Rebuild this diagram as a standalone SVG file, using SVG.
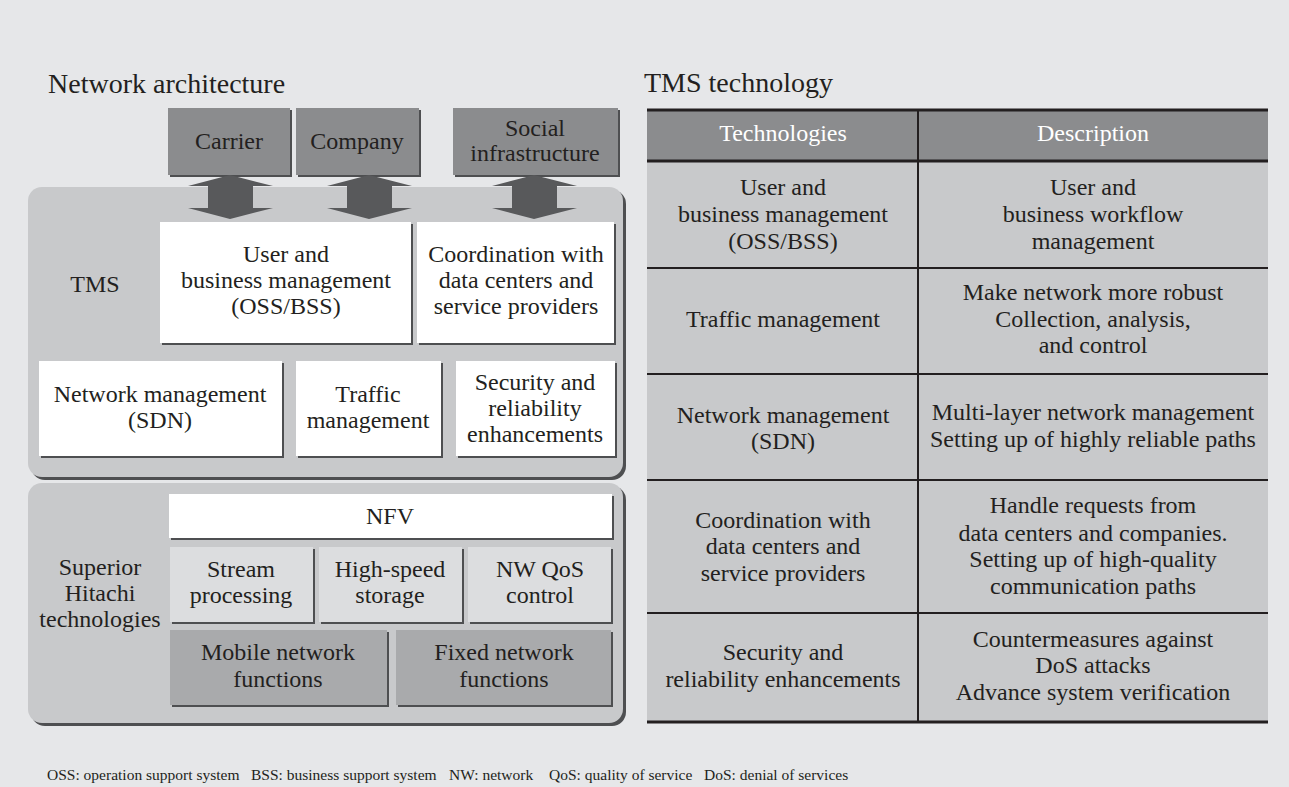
<svg xmlns="http://www.w3.org/2000/svg" width="1289" height="787" viewBox="0 0 1289 787">
<style>
text{font-family:"Liberation Serif","Times New Roman",serif;fill:#231f20;text-anchor:middle}
.t{font-size:24px}
.h{font-size:28px;text-anchor:start}
.w{fill:#ffffff}
.ft{font-size:15.5px;text-anchor:start}
.sh{fill:#4e4f51}
.dk{fill:#8b8c8e}
.wh{fill:#ffffff}
.lt{fill:#dcdddf}
.md{fill:#a9aaac}
.panel{fill:#c8c9cb}
.arr{fill:#58595b}
.ln{stroke:#231f20;stroke-width:2;fill:none}
.lnb{stroke:#231f20;stroke-width:3;fill:none}
</style>
<rect x="0" y="0" width="1289" height="787" fill="#e6e7e9"/>
<text class="h" x="48" y="93">Network architecture</text>
<text class="h" x="644" y="92">TMS technology</text>

<g id="tms-panel">
<rect class="sh" x="31" y="190" width="595" height="290" rx="14"/>
<rect class="panel" x="28" y="187" width="595" height="290" rx="14"/>
<text class="t" x="95" y="292">TMS</text>
</g>
<g id="hitachi-panel">
<rect class="sh" x="31" y="486" width="595" height="240" rx="14"/>
<rect class="panel" x="28" y="483" width="595" height="240" rx="14"/>
<text class="t" x="100" y="575">Superior</text>
<text class="t" x="100" y="601">Hitachi</text>
<text class="t" x="100" y="627">technologies</text>
</g>

<g id="carrier">
<rect class="sh" x="170" y="110" width="122" height="67"/>
<rect class="dk" x="168" y="108" width="122" height="67"/>
<text class="t" x="229" y="149">Carrier</text>
</g>
<g id="company">
<rect class="sh" x="298" y="110" width="123" height="67"/>
<rect class="dk" x="296" y="108" width="123" height="67"/>
<text class="t" x="357" y="149">Company</text>
</g>
<g id="social">
<rect class="sh" x="455" y="110" width="165" height="67"/>
<rect class="dk" x="453" y="108" width="165" height="67"/>
<text class="t" x="535" y="136">Social</text>
<text class="t" x="535" y="161">infrastructure</text>
</g>

<g id="connectors">
<polygon class="arr" points="230,175 273,186 253,186 253,208 273,208 230,219 188,208 208,208 208,186 188,186"/>
<polygon class="arr" points="369,175 412,186 392,186 392,208 412,208 369,219 327,208 347,208 347,186 327,186"/>
<polygon class="arr" points="534,175 577,186 557,186 557,208 577,208 534,219 492,208 512,208 512,186 492,186"/>
</g>

<g id="user-business">
<rect class="sh" x="162" y="224" width="251" height="121"/>
<rect class="wh" x="160" y="222" width="251" height="121"/>
<text class="t" x="286" y="262">User and</text>
<text class="t" x="286" y="288">business management</text>
<text class="t" x="286" y="314">(OSS/BSS)</text>
</g>
<g id="coordination">
<rect class="sh" x="419" y="224" width="197" height="121"/>
<rect class="wh" x="417" y="222" width="197" height="121"/>
<text class="t" x="516" y="262">Coordination with</text>
<text class="t" x="516" y="288">data centers and</text>
<text class="t" x="516" y="314">service providers</text>
</g>
<g id="network-mgmt">
<rect class="sh" x="41" y="363" width="243" height="95"/>
<rect class="wh" x="39" y="361" width="243" height="95"/>
<text class="t" x="160" y="402">Network management</text>
<text class="t" x="160" y="428">(SDN)</text>
</g>
<g id="traffic-mgmt">
<rect class="sh" x="298" y="363" width="145" height="95"/>
<rect class="wh" x="296" y="361" width="145" height="95"/>
<text class="t" x="368" y="402">Traffic</text>
<text class="t" x="368" y="428">management</text>
</g>
<g id="security">
<rect class="sh" x="458" y="363" width="159" height="95"/>
<rect class="wh" x="456" y="361" width="159" height="95"/>
<text class="t" x="535" y="390">Security and</text>
<text class="t" x="535" y="416">reliability</text>
<text class="t" x="535" y="442">enhancements</text>
</g>

<g id="nfv">
<rect class="sh" x="171" y="496" width="443" height="44"/>
<rect class="wh" x="169" y="494" width="443" height="44"/>
<text class="t" x="390" y="524">NFV</text>
</g>
<g id="stream">
<rect class="sh" x="172" y="549" width="143" height="75"/>
<rect class="lt" x="170" y="547" width="143" height="75"/>
<text class="t" x="241" y="577">Stream</text>
<text class="t" x="241" y="603">processing</text>
</g>
<g id="storage">
<rect class="sh" x="321" y="549" width="143" height="75"/>
<rect class="lt" x="319" y="547" width="143" height="75"/>
<text class="t" x="390" y="577">High-speed</text>
<text class="t" x="390" y="603">storage</text>
</g>
<g id="qos">
<rect class="sh" x="470" y="549" width="143" height="75"/>
<rect class="lt" x="468" y="547" width="143" height="75"/>
<text class="t" x="540" y="577">NW QoS</text>
<text class="t" x="540" y="603">control</text>
</g>
<g id="mobile">
<rect class="sh" x="172" y="632" width="217" height="75"/>
<rect class="md" x="170" y="630" width="217" height="75"/>
<text class="t" x="278" y="660">Mobile network</text>
<text class="t" x="278" y="687">functions</text>
</g>
<g id="fixed">
<rect class="sh" x="398" y="632" width="215" height="75"/>
<rect class="md" x="396" y="630" width="215" height="75"/>
<text class="t" x="504" y="660">Fixed network</text>
<text class="t" x="504" y="687">functions</text>
</g>

<g id="table">
<rect x="647" y="109" width="621" height="52" fill="#8b8c8e"/>
<rect x="647" y="161" width="621" height="561" fill="#c8c9cb"/>
<line class="lnb" x1="647" y1="110" x2="1268" y2="110"/>
<line class="lnb" x1="647" y1="161" x2="1268" y2="161"/>
<line class="ln" x1="647" y1="268" x2="1268" y2="268"/>
<line class="ln" x1="647" y1="374" x2="1268" y2="374"/>
<line class="ln" x1="647" y1="480" x2="1268" y2="480"/>
<line class="ln" x1="647" y1="613" x2="1268" y2="613"/>
<line class="lnb" x1="647" y1="722" x2="1268" y2="722"/>
<line class="ln" x1="918" y1="110" x2="918" y2="721"/>
<text class="t w" x="783" y="141">Technologies</text>
<text class="t w" x="1093" y="141">Description</text>
<text class="t" x="783" y="195">User and</text>
<text class="t" x="783" y="222">business management</text>
<text class="t" x="783" y="249">(OSS/BSS)</text>
<text class="t" x="1093" y="195">User and</text>
<text class="t" x="1093" y="222">business workflow</text>
<text class="t" x="1093" y="249">management</text>
<text class="t" x="783" y="327">Traffic management</text>
<text class="t" x="1093" y="300">Make network more robust</text>
<text class="t" x="1093" y="327">Collection, analysis,</text>
<text class="t" x="1093" y="353">and control</text>
<text class="t" x="783" y="423">Network management</text>
<text class="t" x="783" y="449">(SDN)</text>
<text class="t" x="1093" y="420">Multi-layer network management</text>
<text class="t" x="1093" y="447">Setting up of highly reliable paths</text>
<text class="t" x="783" y="528">Coordination with</text>
<text class="t" x="783" y="554">data centers and</text>
<text class="t" x="783" y="581">service providers</text>
<text class="t" x="1093" y="513">Handle requests from</text>
<text class="t" x="1093" y="541">data centers and companies.</text>
<text class="t" x="1093" y="567">Setting up of high-quality</text>
<text class="t" x="1093" y="594">communication paths</text>
<text class="t" x="783" y="660">Security and</text>
<text class="t" x="783" y="687">reliability enhancements</text>
<text class="t" x="1093" y="647">Countermeasures against</text>
<text class="t" x="1093" y="673">DoS attacks</text>
<text class="t" x="1093" y="700">Advance system verification</text>
</g>

<text class="ft" y="780"><tspan x="47">OSS: operation support system</tspan><tspan x="251">BSS: business support system</tspan><tspan x="449">NW: network</tspan><tspan x="549">QoS: quality of service</tspan><tspan x="704">DoS: denial of services</tspan></text>
</svg>
